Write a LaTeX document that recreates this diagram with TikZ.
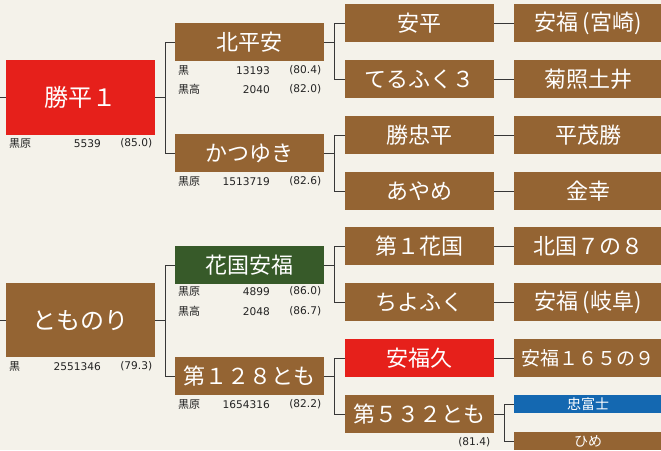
\documentclass[tikz,border=0pt]{standalone}
\usepackage{fontspec}
\setmainfont{Noto Sans CJK JP}
\newfontfamily\numfont{DejaVu Sans}
\usepackage{tikz}
\usetikzlibrary{calc}
\usetikzlibrary{positioning}

\definecolor{tanned}{RGB}{148,100,51}
\definecolor{champred}{RGB}{230,32,27}
\definecolor{pine}{RGB}{55,90,41}
\definecolor{fuji}{RGB}{20,104,177}
\definecolor{paper}{RGB}{244,242,234}
\definecolor{wire}{RGB}{55,55,55}
\definecolor{ink}{RGB}{35,35,35}

\tikzset{datatxt/.style={inner sep=0pt,text=ink,font=\fontsize{11}{12}\selectfont},
         datanum/.style={datatxt,font=\numfont\fontsize{10.6}{12}\selectfont}}

% box, offset below box, registry, number, score
\newcommand{\dataline}[5]{%
  \node[datatxt,anchor=west] (#1-k#2) at ($(#1.south west)+(3,#2)$) {#3};
  \node[datanum,anchor=east] (#1-n#2) at ($(#1.south west)+(95,#2)$) {#4};
  \node[datanum,anchor=east] (#1-s#2) at ($(#1.south east)+(-3,#2)$) {#5};
}

\begin{document}
\begin{tikzpicture}[x=1pt,y=-1pt]
  \useasboundingbox (0,0) rectangle (661,450);
  \fill[paper] (0,0) rectangle (661,450);
  \clip (0,0) rectangle (661,450);

  \begin{scope}[every node/.style={rectangle,fill=tanned,text=white,inner sep=0pt,anchor=north west,minimum width=149,minimum height=38,font=\fontsize{22}{22}\selectfont}]
    \node[fill=champred,minimum height=75,font=\fontsize{24}{24}\selectfont] (a) at (6,60) {勝平１};
    \node[minimum height=74,font=\fontsize{24}{24}\selectfont] (b) at (6,283) {とものり};
    \node (aa) at (175,23) {北平安};
    \node (ab) at (175,134) {かつゆき};
    \node[fill=pine] (ba) at (175,246) {花国安福};
    \node (bb) at (175,357) {第１２８とも};
    \node (aaa) at (345,4) {安平};
    \node (aab) at (345,60) {てるふく３};
    \node (aba) at (345,116) {勝忠平};
    \node (abb) at (345,172) {あやめ};
    \node (baa) at (345,227) {第１花国};
    \node (bab) at (345,283) {ちよふく};
    \node[fill=champred] (bba) at (345,339) {安福久};
    \node (bbb) at (345,395) {第５３２とも};
    \node[minimum width=148] (aaaa) at (514,4) {安福\,(宮崎)};
    \node[minimum width=148] (aaba) at (514,60) {菊照土井};
    \node[minimum width=148] (abaa) at (514,116) {平茂勝};
    \node[minimum width=148] (abba) at (514,172) {金幸};
    \node[minimum width=148] (baaa) at (514,227) {北国７の８};
    \node[minimum width=148] (baba) at (514,283) {安福\,(岐阜)};
    \node[minimum width=148,font=\fontsize{19}{19}\selectfont] (bbaa) at (514,339) {安福１６５の９};
    \node[minimum width=148,minimum height=18,fill=fuji,font=\fontsize{14}{14}\selectfont] (bbba) at (514,395) {忠富士};
    \node[minimum width=148,minimum height=18,font=\fontsize{14}{14}\selectfont] (bbbb) at (514,432) {ひめ};
  \end{scope}

  \coordinate (ina) at (0,97.5);
  \coordinate (inb) at (0,320);

  \dataline{a}{8}{黒原}{5539}{(85.0)}
  \dataline{b}{9}{黒}{2551346}{(79.3)}
  \dataline{aa}{9}{黒}{13193}{(80.4)}
  \dataline{aa}{28}{黒高}{2040}{(82.0)}
  \dataline{ab}{9}{黒原}{1513719}{(82.6)}
  \dataline{ba}{7}{黒原}{4899}{(86.0)}
  \dataline{ba}{27}{黒高}{2048}{(86.7)}
  \dataline{bb}{9}{黒原}{1654316}{(82.2)}
  \node[datanum,anchor=east] (bbb-s9) at ($(bbb.south east)+(-4,9)$) {(81.4)};

  \begin{scope}[every edge/.style={draw=wire,line width=0.9pt,to path={-| ($(\tikztostart)!.5!(\tikztotarget)$) |- (\tikztotarget)}}]
    \path (ina) edge (a.west);
    \path (inb) edge (b.west);
    \path (a.east) edge (aa.west);
    \path (a.east) edge (ab.west);
    \path (b.east) edge (ba.west);
    \path (b.east) edge (bb.west);
    \path (aa.east) edge (aaa.west);
    \path (aa.east) edge (aab.west);
    \path (ab.east) edge (aba.west);
    \path (ab.east) edge (abb.west);
    \path (ba.east) edge (baa.west);
    \path (ba.east) edge (bab.west);
    \path (bb.east) edge (bba.west);
    \path (bb.east) edge (bbb.west);
    \path (aaa.east) edge (aaaa.west);
    \path (aab.east) edge (aaba.west);
    \path (aba.east) edge (abaa.west);
    \path (abb.east) edge (abba.west);
    \path (baa.east) edge (baaa.west);
    \path (bab.east) edge (baba.west);
    \path (bba.east) edge (bbaa.west);
    \path (bbb.east) edge (bbba.west);
    \path (bbb.east) edge (bbbb.west);
  \end{scope}
\end{tikzpicture}
\end{document}
